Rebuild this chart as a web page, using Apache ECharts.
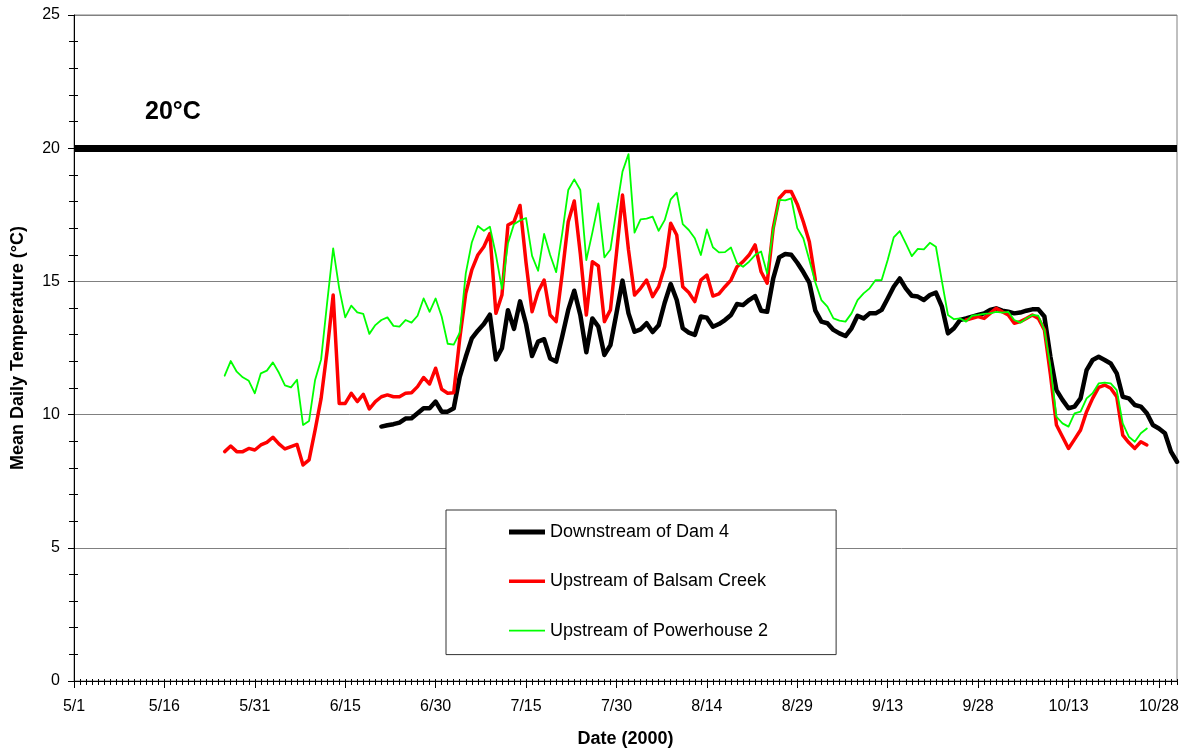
<!DOCTYPE html>
<html>
<head>
<meta charset="utf-8">
<script src="https://cdn.jsdelivr.net/npm/echarts@6/dist/echarts.min.js"></script>
<style>
html,body{margin:0;padding:0;background:#fff;}
#chart{width:1185px;height:750px;}
</style>
</head>
<body>
<div id="chart"></div>
<script>
// ---- Data (mean daily temperature, °C) ----
// Day index 0 = 5/1/2000, last index 183 = 10/31/2000
const dayCount = 184;
const days = [];
for (let i = 0; i < dayCount; i++) {
  const d = new Date(2000, 4, 1 + i);
  days.push((d.getMonth() + 1) + '/' + d.getDate());
}

const seriesNames = ['Downstream of Dam 4', 'Upstream of Balsam Creek', 'Upstream of Powerhouse 2'];

// Downstream of Dam 4: first value on 6/21 (index 51)
const damStart = 51;
const damValues = [
  9.55, 9.6, 9.64, 9.7, 9.85, 9.86, 10.05, 10.24, 10.24, 10.49,
  10.11, 10.11, 10.24, 11.42, 12.17, 12.86, 13.15, 13.4, 13.75, 12.07,
  12.49, 13.92, 13.22, 14.25, 13.4, 12.2, 12.74, 12.83, 12.11, 11.99,
  12.93, 13.93, 14.65, 13.74, 12.34, 13.61, 13.3, 12.24, 12.61, 13.8,
  15.03, 13.8, 13.11, 13.2, 13.43, 13.1, 13.35, 14.2, 14.9, 14.3,
  13.24, 13.08, 12.99, 13.68, 13.64, 13.3, 13.4, 13.55, 13.74, 14.15,
  14.11, 14.3, 14.45, 13.9, 13.86, 15.1, 15.9, 16.03, 16.0, 15.7,
  15.35, 14.95, 13.9, 13.49, 13.43, 13.18, 13.05, 12.95, 13.24, 13.71,
  13.61, 13.8, 13.8, 13.93, 14.36, 14.8, 15.11, 14.74, 14.46, 14.43,
  14.3, 14.49, 14.58, 14.05, 13.05, 13.24, 13.55, 13.61, 13.68, 13.74,
  13.8, 13.93, 13.99, 13.9, 13.86, 13.8, 13.83, 13.9, 13.95, 13.95,
  13.68, 12.17, 10.92, 10.55, 10.24, 10.3, 10.61, 11.67, 12.05, 12.17,
  12.05, 11.92, 11.55, 10.67, 10.61, 10.36, 10.3, 10.05, 9.61, 9.48,
  9.3, 8.61, 8.23
];

// Upstream of Balsam Creek: first value on 5/26 (index 25), gap in September
const balsamStart = 25;
const balsamValues = [
  8.61, 8.82, 8.61, 8.61, 8.73, 8.67, 8.86, 8.96, 9.15, 8.9,
  8.71, 8.8, 8.88, 8.11, 8.3, 9.42, 10.61, 12.4, 14.49, 10.42,
  10.42, 10.8, 10.49, 10.76, 10.21, 10.49, 10.67, 10.74, 10.67, 10.67,
  10.8, 10.82, 11.05, 11.39, 11.15, 11.74, 10.95, 10.8, 10.82, 12.85,
  14.55, 15.43, 15.99, 16.3, 16.8, 13.8, 14.49, 17.12, 17.24, 17.85,
  15.7, 13.86, 14.61, 15.05, 13.74, 13.49, 15.3, 17.24, 18.02, 16.05,
  13.74, 15.74, 15.58, 13.49, 13.93, 16.05, 18.24, 16.18, 14.49, 14.74,
  15.05, 14.43, 14.8, 15.55, 17.18, 16.74, 14.8, 14.58, 14.24, 15.05,
  15.24, 14.45, 14.53, 14.8, 15.05, 15.55, 15.74, 15.99, 16.37, 15.36,
  14.93, 16.99, 18.12, 18.37, 18.37, 17.9, 17.24, 16.49, 15.05, null,
  null, null, null, null, null, null, null, null, null, null,
  null, null, null, null, null, null, null, null, null, null,
  null, null, null, 13.55, 13.61, 13.68, 13.61, 13.8, 13.99, 13.86,
  13.74, 13.43, 13.49, 13.61, 13.74, 13.61, 13.18, 11.5, 9.61, 9.17,
  8.73, 9.07, 9.42, 10.11, 10.61, 11.02, 11.11, 10.99, 10.67, 9.23,
  8.95, 8.73, 8.98, 8.86
];

// Upstream of Powerhouse 2: first value on 5/26 (index 25)
const powerStart = 25;
const powerValues = [
  11.46, 12.01, 11.61, 11.4, 11.27, 10.8, 11.55, 11.65, 11.96, 11.57,
  11.1, 11.02, 11.31, 9.61, 9.76, 11.3, 12.07, 14.2, 16.24, 14.74,
  13.65, 14.09, 13.84, 13.78, 13.03, 13.36, 13.55, 13.65, 13.33, 13.3,
  13.55, 13.45, 13.71, 14.36, 13.86, 14.36, 13.68, 12.66, 12.63, 13.08,
  15.3, 16.46, 17.08, 16.9, 17.05, 16.0, 14.72, 16.43, 17.15, 17.29,
  17.38, 15.96, 15.4, 16.78, 15.99, 15.35, 16.8, 18.43, 18.83, 18.43,
  15.8, 16.83, 17.93, 15.9, 16.2, 17.68, 19.12, 19.78, 16.83, 17.33,
  17.36, 17.43, 16.9, 17.3, 18.08, 18.33, 17.15, 16.93, 16.62, 15.99,
  16.95, 16.28, 16.09, 16.1, 16.27, 15.68, 15.55, 15.74, 15.99, 16.12,
  15.3, 16.94, 18.06, 18.04, 18.12, 17.0, 16.62, 15.8, 14.96, 14.3,
  14.05, 13.61, 13.53, 13.49, 13.8, 14.3, 14.55, 14.74, 15.05, 15.05,
  15.8, 16.65, 16.89, 16.43, 15.95, 16.22, 16.2, 16.45, 16.3, 15.0,
  13.74, 13.58, 13.61, 13.49, 13.71, 13.74, 13.78, 13.8, 13.86, 13.83,
  13.86, 13.55, 13.45, 13.61, 13.74, 13.71, 13.18, 11.8, 9.92, 9.67,
  9.55, 10.05, 10.11, 10.61, 10.8, 11.17, 11.2, 11.17, 10.92, 9.67,
  9.17, 8.98, 9.3, 9.48
];

const thresholdValue = 20;
const thresholdLabel = '20°C';
const yTicks = { min: 0, max: 25, interval: 5 };

// ---- Build chart ----
function alignToDays(start, vals) {
  const out = new Array(start).fill(null).concat(vals);
  while (out.length < dayCount) out.push(null);
  return out;
}

const FONT = '"Liberation Sans", Arial, sans-serif';
const chart = echarts.init(document.getElementById('chart'), null, { renderer: 'canvas' });

const tickColor = '#000';
const option = {
  backgroundColor: '#fff',
  animation: false,
  grid: {
    left: 74, top: 15, width: 1103, height: 666,
    show: true, borderColor: '#808080', borderWidth: 1, backgroundColor: 'transparent',
    containLabel: false, outerBoundsMode: 'none'
  },
  xAxis: [
    {
      type: 'category', data: days, boundaryGap: false, position: 'bottom',
      axisLine: { show: true, onZero: false, lineStyle: { color: '#000', width: 1 } },
      axisTick: { show: true, interval: 0, length: 4, lineStyle: { color: tickColor, width: 1 } },
      axisLabel: { interval: 14, margin: 18, fontSize: 16, fontFamily: FONT, color: '#000' },
      splitLine: { show: false },
      name: 'Date (2000)', nameLocation: 'middle', nameGap: 49,
      nameTextStyle: { fontSize: 18, fontWeight: 'bold', fontFamily: FONT, color: '#000' }
    },
    {
      type: 'category', data: days, boundaryGap: false, position: 'bottom',
      axisLine: { show: false, onZero: false },
      axisTick: { show: true, inside: true, interval: 0, length: 2, lineStyle: { color: tickColor, width: 1 } },
      axisLabel: { show: false }, splitLine: { show: false }
    },
    {
      type: 'category', data: days, boundaryGap: false, position: 'bottom',
      axisLine: { show: false, onZero: false },
      axisTick: { show: true, interval: 14, length: 7, lineStyle: { color: tickColor, width: 1 } },
      axisLabel: { show: false }, splitLine: { show: false }
    }
  ],
  yAxis: [
    {
      type: 'value', min: yTicks.min, max: yTicks.max, interval: yTicks.interval, position: 'left',
      axisLine: { show: true, lineStyle: { color: '#000', width: 1 } },
      axisTick: { show: true, length: 6, lineStyle: { color: tickColor, width: 1 } },
      minorTick: { show: true, splitNumber: 5, length: 5, lineStyle: { color: tickColor, width: 1 } },
      axisLabel: { margin: 14, fontSize: 16, fontFamily: FONT, color: '#000' },
      splitLine: { show: true, lineStyle: { color: '#808080', width: 1 } },
      name: 'Mean Daily Temperature (°C)', nameLocation: 'middle', nameGap: 47, nameRotate: 90,
      nameTextStyle: { fontSize: 18, fontWeight: 'bold', fontFamily: FONT, color: '#000' }
    },
    {
      type: 'value', min: yTicks.min, max: yTicks.max, interval: yTicks.interval, position: 'left',
      axisLine: { show: false },
      axisTick: { show: true, inside: true, length: 4, lineStyle: { color: 'rgba(0,0,0,0)', width: 1 } },
      minorTick: { show: true, splitNumber: 5, length: 4, lineStyle: { color: tickColor, width: 1 } },
      axisLabel: { show: false }, splitLine: { show: false }
    }
  ],
  legend: {
    orient: 'vertical', left: 446, top: 510,
    padding: [12, 68, 14, 63], itemGap: 29.3,
    itemWidth: 36, itemHeight: 20,
    backgroundColor: '#fff', borderColor: '#333', borderWidth: 1,
    selectedMode: false,
    itemStyle: { borderWidth: 0 },
    textStyle: { fontSize: 18, fontFamily: FONT, color: '#000' },
    data: [
      { name: seriesNames[0], icon: 'path://M0,0 M36,20 M0,7.5 L36,7.5 L36,12.5 L0,12.5 Z' },
      { name: seriesNames[1], icon: 'path://M0,0 M36,20 M0,8.3 L36,8.3 L36,11.7 L0,11.7 Z' },
      { name: seriesNames[2], icon: 'path://M0,0 M36,20 M0,9.1 L36,9.1 L36,10.9 L0,10.9 Z' }
    ]
  },
  graphic: [
    {
      type: 'text', x: 145, y: 112, silent: true,
      style: { text: thresholdLabel, font: 'bold 25px ' + FONT, fill: '#000', verticalAlign: 'middle', textVerticalAlign: 'middle' }
    }
  ],
  series: [
    {
      name: seriesNames[0], type: 'line', xAxisIndex: 0, yAxisIndex: 0,
      data: alignToDays(damStart, damValues),
      symbol: 'none', showSymbol: false, connectNulls: false,
      color: '#000',
      lineStyle: { width: 4.5, color: '#000', cap: 'round', join: 'round' },
      markLine: {
        silent: true, symbol: 'none', animation: false,
        label: { show: false },
        lineStyle: { color: '#000', width: 7, type: 'solid' },
        emphasis: { disabled: true },
        data: [{ yAxis: thresholdValue }]
      }
    },
    {
      name: seriesNames[1], type: 'line', xAxisIndex: 0, yAxisIndex: 0,
      data: alignToDays(balsamStart, balsamValues),
      symbol: 'none', showSymbol: false, connectNulls: false,
      color: '#ff0000',
      lineStyle: { width: 3.5, color: '#ff0000', cap: 'round', join: 'round' }
    },
    {
      name: seriesNames[2], type: 'line', xAxisIndex: 0, yAxisIndex: 0,
      data: alignToDays(powerStart, powerValues),
      symbol: 'none', showSymbol: false, connectNulls: false,
      color: '#00ff00',
      lineStyle: { width: 1.8, color: '#00ff00', cap: 'round', join: 'round' }
    }
  ]
};
chart.setOption(option);
</script>
</body>
</html>
